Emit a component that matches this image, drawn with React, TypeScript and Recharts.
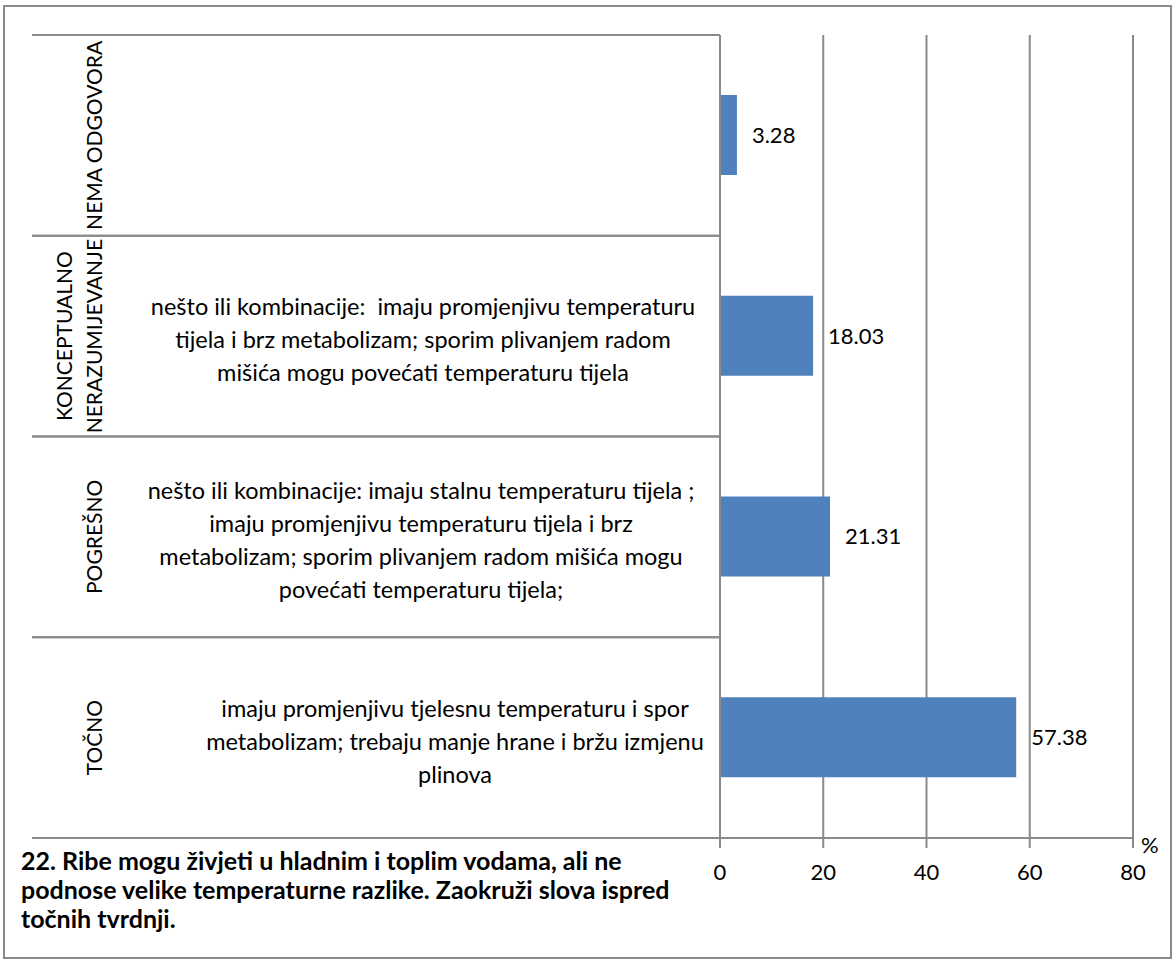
import React from "react";
import {
  BarChart,
  Bar,
  XAxis,
  YAxis,
  CartesianGrid,
  LabelList,
} from "recharts";

const categories = ["nema", "konceptualno", "pogresno", "tocno"];

const categoryLines = [
  ["NEMA ODGOVORA"],
  ["KONCEPTUALNO", "NERAZUMIJEVANJE"],
  ["POGREŠNO"],
  ["TOČNO"],
];

const descriptions = [
  [],
  [
    "nešto ili kombinacije:  imaju promjenjivu temperaturu",
    "tijela i brz metabolizam; sporim plivanjem radom",
    "mišića mogu povećati temperaturu tijela",
  ],
  [
    "nešto ili kombinacije: imaju stalnu temperaturu tijela ;",
    "imaju promjenjivu temperaturu tijela i brz",
    "metabolizam; sporim plivanjem radom mišića mogu",
    "povećati temperaturu tijela;",
  ],
  [
    "imaju promjenjivu tjelesnu temperaturu i spor",
    "metabolizam; trebaju manje hrane i bržu izmjenu",
    "plinova",
  ],
];

const values = [3.28, 18.03, 21.31, 57.38];

const xTicks = [0, 20, 40, 60, 80];

const titleLines = [
  "22. Ribe mogu živjeti u hladnim i toplim vodama, ali ne",
  "podnose velike temperaturne razlike. Zaokruži slova ispred",
  "točnih tvrdnji.",
];

const data = categories.map((c, i) => ({ name: c, value: values[i] }));

const FONT = "Lato, 'Open Sans', sans-serif";
const GRID = "#8a8a8a";
const BAR = "#4F81BD";

// layout for the left-hand label table
const TOP = 35;
const PLOT_BOTTOM = 838;
const BAND = (PLOT_BOTTOM - TOP) / categories.length;
const TABLE_LEFT = 32;
const TABLE_RIGHT = 720;
const descCenter = [425, 423, 421, 455];

function CategoryTick(props: any) {
  const { y, payload } = props;
  const i = payload.index;
  const lines = categoryLines[i];
  const desc = descriptions[i];
  return (
    <g>
      <line x1={TABLE_LEFT} x2={TABLE_RIGHT} y1={y - BAND / 2} y2={y - BAND / 2} stroke={GRID} strokeWidth={2} />
      <line x1={TABLE_LEFT} x2={TABLE_RIGHT} y1={y + BAND / 2} y2={y + BAND / 2} stroke={GRID} strokeWidth={2} />
      {lines.map((l, k) => {
        const lx = 93 - (lines.length - 1 - k) * 30;
        return (
          <text
            key={k}
            x={lx}
            y={y}
            transform={`rotate(-90, ${lx}, ${y})`}
            textAnchor="middle"
            dominantBaseline="central"
            fontFamily={FONT}
            fontSize={21}
            fill="#000"
          >
            {l}
          </text>
        );
      })}
      {desc.map((d, k) => (
        <text
          key={k}
          x={descCenter[i]}
          y={y + 3 + (k - (desc.length - 1) / 2) * 33}
          textAnchor="middle"
          dominantBaseline="central"
          fontFamily={FONT}
          fontSize={23.5}
          fill="#000"
          style={{ whiteSpace: "pre" }}
        >
          {d}
        </text>
      ))}
    </g>
  );
}

export default function App() {
  return (
    <div style={{ position: "absolute", left: 0, top: 0, width: 1175, height: 962, background: "#fff" }}>
      <div
        style={{
          position: "absolute",
          left: 3,
          top: 5,
          width: 1165,
          height: 950,
          border: `2px solid ${GRID}`,
        }}
      />
      <div style={{ position: "absolute", left: 0, top: 0 }}>
        <BarChart
          width={1175}
          height={962}
          data={data}
          layout="vertical"
          margin={{ top: TOP, right: 42, bottom: 64, left: 0 }}
        >
          <CartesianGrid horizontal={false} stroke={GRID} strokeWidth={2} />
          <XAxis
            type="number"
            domain={[0, 80]}
            ticks={xTicks}
            height={60}
            stroke={GRID}
            strokeWidth={2}
            tickSize={10}
            tickMargin={16}
            tick={{ fill: "#000", fontSize: 22, fontFamily: FONT }}
            label={{
              content: (p: any) => (
                <text
                  x={p.viewBox.x + p.viewBox.width + 8}
                  y={p.viewBox.y + 6}
                  dominantBaseline="central"
                  fontFamily={FONT}
                  fontSize={22}
                  fill="#000"
                >
                  %
                </text>
              ),
            }}
          />
          <YAxis
            type="category"
            dataKey="name"
            width={720}
            stroke={GRID}
            strokeWidth={2}
            tickLine={false}
            tick={<CategoryTick />}
            interval={0}
          />
          <Bar dataKey="value" fill={BAR} barSize={80} isAnimationActive={false}>
            <LabelList
              dataKey="value"
              position="right"
              offset={15}
              fill="#000"
              fontSize={22}
              fontFamily={FONT}
              formatter={(v: any) => Number(v).toFixed(2)}
            />
          </Bar>
        </BarChart>
      </div>
      <div
        style={{
          position: "absolute",
          left: 21,
          top: 846,
          fontFamily: FONT,
          fontWeight: 700,
          fontSize: 25,
          lineHeight: "29px",
          color: "#000",
          whiteSpace: "nowrap",
        }}
      >
        {titleLines.map((t, i) => (
          <div key={i}>{t}</div>
        ))}
      </div>
    </div>
  );
}
